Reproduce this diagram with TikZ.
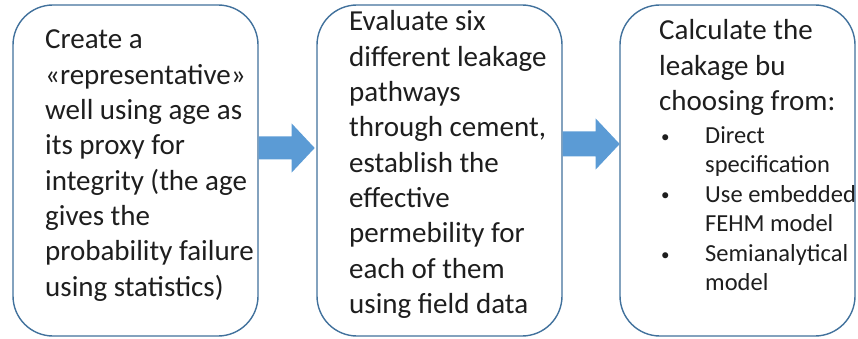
\documentclass[tikz,border=0pt]{standalone}
\usepackage{fontspec}
\setmainfont{Carlito}
\usetikzlibrary{calc}
\definecolor{boxline}{HTML}{41719C}
\definecolor{arrowblue}{HTML}{5B9BD5}
\definecolor{ink}{HTML}{1E1E1E}
\tikzset{
  stepbox/.style={draw=boxline, line width=1.4pt, fill=white, rounded corners=40pt,
    minimum height=331pt, inner sep=0pt},
  blocktext/.style={anchor=base west, inner sep=0pt, text=ink},
  arrowfill/.style={fill=arrowblue}
}
\newcommand{\mainsize}{\fontsize{29}{35.3}\selectfont}
\newcommand{\listsize}{\fontsize{24.5}{29.5}\selectfont}
\newcommand{\itemdot}{\makebox[45pt][l]{\hspace*{1pt}\raisebox{1pt}{\fontsize{17}{17}\selectfont •}}}
\begin{document}
\begin{tikzpicture}[x=1pt,y=-1pt]
\useasboundingbox (0,0) rectangle (858,339);

% the three process boxes
\node[stepbox, minimum width=245pt] (b1) at (135.5,170.5) {};
\node[stepbox, minimum width=245pt] (b2) at (439.5,170.5) {};
\node[stepbox, minimum width=235pt] (b3) at (737.5,170.5) {};

% block arrows between the boxes
\coordinate (a1) at ([yshift=22.5pt]b1.east);
\fill[arrowfill] (a1) ++(0,-11.5) -- ++(33,0) -- ++(0,-13) -- ++(23,24.5)
  -- ++(-23,24.5) -- ++(0,-13) -- ++(-33,0) -- cycle;
\coordinate (a2) at ([yshift=26.5pt]b2.east);
\fill[arrowfill] (a2) ++(0,-12.5) -- ++(33,0) -- ++(0,-13) -- ++(24,25.5)
  -- ++(-24,25.5) -- ++(0,-13) -- ++(-33,0) -- cycle;

% box texts
\node[blocktext] (t1) at (45,49) {\parbox[t]{300pt}{\mainsize\raggedright
  Create a\\
  «representative»\\
  well using age as\\
  its proxy for\\
  integrity (the age\\
  gives the\\
  probability failure\\
  using statistics)}};

\node[blocktext] (t2) at (349,31) {\parbox[t]{300pt}{\mainsize\raggedright
  Evaluate six\\
  different leakage\\
  pathways\\
  through cement,\\
  establish the\\
  effective\\
  permebility for\\
  each of them\\
  using field data}};

\node[blocktext] (t3) at (659,40) {\parbox[t]{300pt}{\mainsize\raggedright
  Calculate the\\
  leakage bu\\
  choosing from:}};

\node[blocktext] (t3list) at (660,143) {\parbox[t]{300pt}{\listsize\raggedright
  \itemdot Direct\\
  \hspace*{45pt}specification\\
  \itemdot Use embedded\\
  \hspace*{45pt}FEHM model\\
  \itemdot Semianalytical\\
  \hspace*{45pt}model}};
\end{tikzpicture}
\end{document}
